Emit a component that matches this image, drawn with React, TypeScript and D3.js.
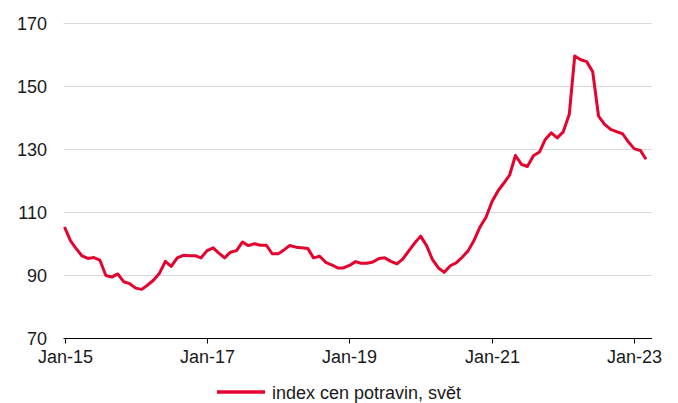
import React from "react";
import * as d3 from "d3";

// FAO food price index (2014-2016 = 100), monthly from Jan 2015
const food2015 = [105.4, 101.0, 98.6, 96.2, 95.4, 95.7, 94.9, 90.0, 89.5, 90.5, 88.0, 87.4];
const food2016 = [86.0, 85.6, 86.9, 88.5, 90.6, 94.5, 92.9, 95.6, 96.4, 96.3, 96.3, 95.6];
const food2017 = [97.9, 98.8, 97.2, 95.6, 97.4, 97.9, 100.6, 99.5, 100.1, 99.6, 99.6, 96.9];
const food2018 = [96.9, 98.2, 99.5, 99.0, 98.8, 98.6, 95.6, 96.1, 94.2, 93.4, 92.4, 92.4];
const food2019 = [93.2, 94.4, 93.9, 93.9, 94.3, 95.4, 95.6, 94.5, 93.7, 95.2, 97.8, 100.3];
const food2020 = [102.5, 99.4, 95.1, 92.4, 91.0, 93.1, 94.0, 95.8, 97.9, 101.2, 105.5, 108.5];
const food2021 = [113.5, 116.9, 119.2, 121.9, 128.1, 125.3, 124.6, 128.0, 129.2, 133.2, 135.3, 133.7];
const food2022 = [135.6, 141.2, 159.7, 158.5, 157.9, 154.7, 140.6, 138.0, 136.4, 135.7, 135.0, 132.4];
const food2023 = [130.2, 129.7, 126.9];

const firstYear = 2015;
const yTicks = [70, 90, 110, 130, 150, 170];
const xTickYears = [2015, 2017, 2019, 2021, 2023];
const xTickLabels = ["Jan-15", "Jan-17", "Jan-19", "Jan-21", "Jan-23"];
const seriesName = "index cen potravin, svět";

const yearly = [food2015, food2016, food2017, food2018, food2019, food2020, food2021, food2022, food2023];
const data = yearly.flatMap((vals, yi) =>
  vals.map((v, mi) => ({ date: new Date(firstYear + yi, mi, 1), value: v }))
);

const W = 678;
const H = 403;
const RED = "#E4032E";
const FONT = "'Liberation Sans', Arial, sans-serif";

export default function App() {
  const x = d3
    .scaleTime()
    .domain([new Date(2015, 0, 1), new Date(2023, 3, 1)])
    .range([64.5, 652]);
  const y = d3.scaleLinear().domain([70, 170]).range([338.5, 23.5]);
  const line = d3
    .line<{ date: Date; value: number }>()
    .x((d) => x(d.date))
    .y((d) => y(d.value));

  const [x0, x1] = x.range();

  return (
    <svg
      width={W}
      height={H}
      style={{ position: "absolute", left: 0, top: 0, background: "#fff" }}
      fontFamily={FONT}
    >
      <rect width={W} height={H} fill="#fff" />
      {yTicks
        .filter((t) => t !== 70)
        .map((t) => (
          <line key={t} x1={x0 - 1} x2={x1} y1={y(t)} y2={y(t)} stroke="#D9D9D9" strokeWidth={1} />
        ))}
      {yTicks.map((t) => (
        <text
          key={t}
          x={47}
          y={y(t)}
          dy="0.35em"
          textAnchor="end"
          fontSize={18}
          fill="#1a1a1a"
        >
          {t}
        </text>
      ))}
      <line x1={x0 - 1} x2={x1} y1={y(70)} y2={y(70)} stroke="#000" strokeWidth={1} />
      {xTickYears.map((yr, i) => {
        const px = Math.round(x(new Date(yr, 0, 1))) + 0.5;
        return (
          <g key={yr}>
            <line x1={px} x2={px} y1={y(70)} y2={y(70) + 5} stroke="#000" strokeWidth={1} />
            <text x={px} y={363} textAnchor="middle" fontSize={18} fill="#1a1a1a">
              {xTickLabels[i]}
            </text>
          </g>
        );
      })}
      <path
        d={line(data) || ""}
        fill="none"
        stroke={RED}
        strokeWidth={3}
        strokeLinejoin="round"
      />
      <line x1={217} x2={265} y1={392} y2={392} stroke={RED} strokeWidth={3.5} />
      <text x={272} y={398.5} fontSize={18} fill="#1a1a1a">
        {seriesName}
      </text>
    </svg>
  );
}
